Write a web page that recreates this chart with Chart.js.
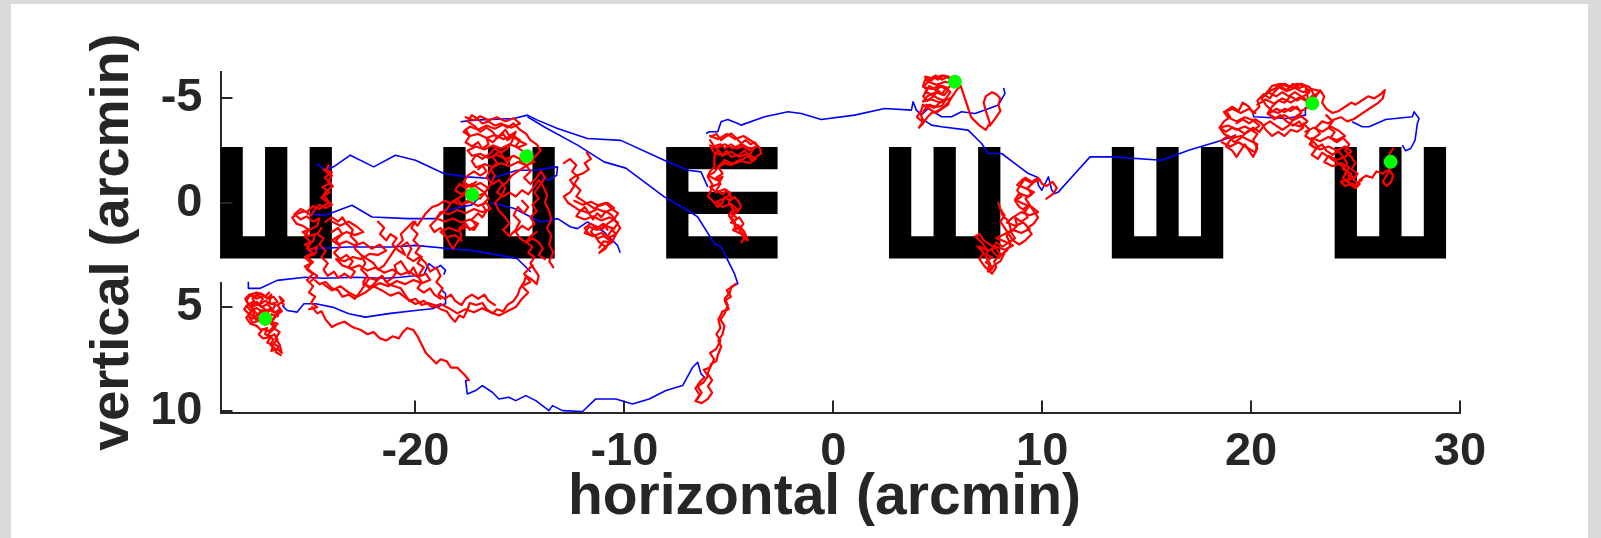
<!DOCTYPE html>
<html>
<head>
<meta charset="utf-8">
<script src="https://cdn.jsdelivr.net/npm/chart.js@4.4.1/dist/chart.umd.min.js"></script>
<style>
html,body{margin:0;padding:0;background:#d9d9d9;width:1601px;height:538px;overflow:hidden;}
#wrap{position:absolute;left:11px;top:4px;width:1577px;height:534px;background:#fff;}
canvas{display:block;}
</style>
</head>
<body>
<div id="wrap"><canvas id="c" width="1577" height="534"></canvas></div>
<script>
// ---------- axis ranges and ticks ----------
const xRange = [-29.333, 30];
const yRange = [-6.28, 10.05];
const xTicks = [-20, -10, 0, 10, 20, 30];
const yTicks = [-5, 0, 5, 10];
const xTitle = 'horizontal (arcmin)  ';
const yTitle = 'vertical (arcmin)';

// ---------- optotypes (tumbling E) ----------
const optoX = [-26.667, -16, -5.333, 5.333, 16, 26.667];
const optoY = [0, 0, 0, 0, 0, 0];
const optoDir = ['up', 'up', 'right', 'up', 'up', 'up'];
const optoSize = 5.333;
const axisGap = [2.667, 3.8];

// ---------- green markers ----------
const greenX = [-27.19, -17.28, -14.68, 5.82, 22.93, 26.68];
const greenY = [5.56, -0.39, -2.23, -5.80, -4.76, -1.96];

// ---------- blue traces ----------
const blueA = [[-28.0,3.81],[-28.0,4.10],[-27.43,4.10],[-26.62,3.72],[-25.28,3.57],[-24.4,3.62],[-22.88,3.57],[-21.5,3.62],[-20.72,3.57],[-19.6,3.45],[-19.36,2.92],[-19.04,3.16],[-18.80,3.0],[-18.56,3.24],[-18.65,3.45]];
const blueB = [[-26.38,4.92],[-26.14,5.16],[-25.66,5.24],[-25.34,4.84],[-24.78,4.84],[-23.98,5.0],[-23.19,5.32],[-22.40,5.48],[-21.2,5.3],[-20.00,5.16],[-19.20,5.08],[-18.56,4.84],[-18.56,4.36],[-18.72,4.20]];
const blueC = [[-25.19,2.36],[-24.80,2.20],[-23.20,2.12],[-21.12,2.12],[-20.00,2.04],[-18.32,2.20],[-17.36,2.28],[-15.92,2.52],[-15.12,2.68],[-14.48,3.32]];
const blueD = [[-25.19,0.52],[-24.32,0.60],[-23.04,0.12],[-22.08,0.68],[-20.33,0.76],[-19.04,0.76],[-18.56,0.36],[-18.0,0.25],[-17.3,0.1],[-17.0,-0.2]];
const blueE = [[-24.72,-1.88],[-24.32,-1.56],[-23.92,-1.72],[-23.12,-2.28],[-22.0,-1.72],[-20.96,-2.28],[-20.0,-2.04],[-18.64,-1.40],[-17.52,-1.24],[-16.40,-1.16],[-15.12,-1.56],[-14.33,-1.56],[-13.20,-1.72],[-13.24,-1.32],[-13.62,-1.08],[-14.0,-1.18]];
const blueF = [[-17.84,-3.88],[-17.20,-3.96],[-15.29,-4.04],[-14.64,-4.20],[-14.16,-3.96],[-13.20,-3.56],[-11.77,-3.08],[-10.17,-2.99],[-8.09,-2.04],[-6.97,-1.56],[-6.33,-1.48],[-6.01,-0.76]];
const blueG = [[-14.64,-4.12],[-13.85,-3.64],[-12.24,-2.76],[-10.97,-1.96],[-9.93,-1.66],[-8.09,-0.28],[-6.97,0.36],[-6.49,0.68],[-5.69,1.96],[-5.37,2.12],[-5.05,2.76],[-4.73,3.40],[-4.57,3.88],[-4.89,4.04]];
const blueH = [[-17.44,8.5],[-17.60,8.52],[-17.52,9.16],[-17.12,9.0],[-16.80,8.76],[-16.32,9.08],[-16.01,9.40],[-15.53,9.32],[-15.20,9.48],[-14.72,9.24],[-14.24,9.48],[-13.61,9.96],[-13.44,9.72],[-12.96,9.96],[-12.00,10.0],[-11.37,9.40],[-10.41,9.40],[-9.61,9.64],[-8.81,9.40],[-8.01,9.0],[-7.21,8.76],[-6.73,7.88],[-6.49,7.64],[-6.33,8.20],[-6.17,8.36]];
const blueI = [[-6.09,-3.32],[-5.93,-3.40],[-5.53,-3.40],[-5.37,-3.88],[-5.05,-3.99],[-4.57,-3.80],[-4.41,-3.72],[-3.29,-4.12],[-2.17,-4.36],[-1.53,-4.28],[-0.58,-3.99],[1.02,-4.20],[2.46,-4.52],[3.74,-4.44],[3.82,-4.84],[3.98,-4.44],[4.22,-4.20],[4.54,-4.52]];
const blueJ = [[4.54,-4.52],[5.18,-4.12],[5.66,-4.12],[6.14,-4.36],[6.78,-4.28],[7.26,-4.44],[7.90,-4.68],[8.22,-5.24],[8.15,-5.5]];
const blueK = [[4.22,-4.04],[4.70,-3.72],[5.18,-3.64],[6.46,-3.48],[7.10,-2.84],[7.42,-2.36],[8.06,-2.36],[8.70,-1.88],[9.34,-1.40],[9.74,-1.24],[9.82,-0.84],[9.98,-0.60],[10.30,-1.24],[10.46,-0.60],[10.61,-0.44],[10.78,-0.52],[11.57,-1.40],[12.29,-2.20],[13.33,-2.20],[15.73,-2.04],[17.01,-2.52],[18.61,-3.0],[19.25,-3.24]];
const blueL = [[20.05,-4.44],[20.13,-4.12],[21.65,-4.04],[22.60,-4.20],[22.60,-4.60]];
const blueM = [[24.84,-3.88],[25.32,-3.64],[25.65,-3.64],[26.44,-3.99],[27.72,-4.12],[27.80,-4.36],[28.04,-4.04],[27.96,-3.80],[27.85,-3.0],[27.64,-2.60],[27.40,-2.49],[27.24,-2.76]];
const blueN = [[-16.4,0.0],[-15.30,0.26],[-14.0,0.92],[-13.20,0.76],[-12.57,1.16],[-12.24,1.24],[-11.77,0.92],[-10.97,1.40],[-10.33,2.04],[-10.2,2.4]];

// ---------- red traces (drift) ----------
const redA = [[-27.2,5.56],[-27.4,5.3],[-27.2,5.1],[-27.5,4.9],[-27.3,4.6],[-27.6,4.4],[-27.8,4.6],[-27.6,4.9],[-27.9,5.0],[-28.1,4.7],[-27.9,4.4],[-27.6,4.3],[-27.3,4.4],[-27.1,4.6],[-26.9,4.4],[-27.0,4.8],[-26.7,4.9],[-26.9,5.2],[-26.6,5.3],[-26.8,5.6],[-27.1,5.4],[-27.4,5.7],[-27.7,5.5],[-27.9,5.3],[-28.1,5.5],[-27.9,5.8],[-27.6,5.9],[-27.4,6.1],[-27.1,6.0],[-27.2,6.3],[-26.9,6.4],[-27.1,6.7],[-26.8,6.8],[-26.9,7.1],[-26.6,7.0],[-26.4,7.2],[-26.5,6.8],[-26.7,6.5],[-26.5,6.2],[-26.8,6.0],[-26.6,5.8],[-26.9,5.7],[-26.7,5.4],[-26.4,5.2],[-26.6,4.9],[-26.3,4.7],[-26.5,4.5],[-26.3,4.9]];
const redA2 = [[-27.0,4.3],[-27.2,4.5],[-27.4,4.35],[-27.7,4.5],[-27.95,4.4],[-28.15,4.6],[-28.0,4.85],[-28.2,5.1],[-28.0,5.3],[-27.75,5.15],[-27.55,5.35],[-27.35,5.15],[-27.1,5.3],[-26.9,5.05],[-27.1,4.85],[-27.35,5.0],[-27.6,4.75],[-27.85,4.9],[-27.65,5.6],[-27.45,5.45],[-27.3,5.8],[-27.0,5.7],[-26.8,5.95],[-27.0,6.15],[-27.3,6.05],[-27.5,6.3],[-27.3,6.5],[-27.0,6.45],[-26.75,6.3],[-26.6,6.55],[-26.8,6.75],[-26.55,6.9],[-26.7,7.15],[-26.45,7.3]];
const redA3 = [[-27.9,4.45],[-27.6,4.6],[-27.3,4.45],[-27.0,4.6],[-26.8,4.5],[-26.6,4.75],[-26.9,4.85],[-27.2,4.7],[-27.5,4.9],[-27.8,4.75],[-28.1,4.95],[-27.9,5.15],[-27.6,5.05],[-27.3,5.25],[-27.0,5.1],[-26.7,5.25],[-26.5,5.1],[-26.6,5.45],[-26.9,5.35],[-27.2,5.5],[-27.5,5.35],[-27.8,5.55],[-28.0,5.4],[-27.8,5.75],[-27.5,5.65],[-27.2,5.85],[-26.9,5.7],[-26.7,5.95],[-26.9,6.15],[-27.1,6.35],[-26.8,6.55],[-26.95,6.8],[-26.7,7.0]];
const redB1 = [[-24.17,-1.8],[-24.3,-1.5],[-24.0,-1.3],[-24.2,-1.0],[-23.95,-0.8],[-24.2,-0.6],[-24.4,-0.4],[-24.2,-0.1],[-24.0,0.1],[-24.3,0.25],[-24.6,0.1],[-24.8,0.3],[-25.0,0.6],[-25.3,0.4],[-25.6,0.5],[-25.9,0.7],[-25.7,1.0],[-25.4,1.1],[-25.1,1.3],[-25.3,1.6],[-25.0,1.9],[-25.2,2.2],[-24.9,2.4],[-25.3,2.6],[-25.0,2.9],[-25.2,3.2],[-24.9,3.4],[-25.2,3.7],[-24.9,4.0],[-25.1,4.3],[-24.8,4.5],[-25.0,4.8],[-24.7,5.0],[-25.1,5.1]];
const redB1b = [[-24.4,-1.6],[-24.0,-1.45],[-24.35,-1.2],[-24.05,-0.95],[-24.45,-0.75],[-24.1,-0.5],[-24.5,-0.25],[-24.15,0.0],[-24.6,0.3],[-24.9,0.15],[-25.2,0.45],[-25.5,0.3],[-25.8,0.55],[-25.5,0.8],[-25.2,0.65],[-24.9,0.9],[-24.6,0.75],[-24.7,1.1],[-25.0,1.25],[-25.4,1.4],[-25.1,1.6],[-24.8,1.5],[-24.9,1.85],[-25.3,2.0],[-25.0,2.25],[-24.7,2.1],[-24.8,2.45],[-25.2,2.6],[-24.9,2.85],[-25.3,3.05],[-25.0,3.3],[-24.7,3.5],[-25.0,3.75]];
const redB2 = [[-24.3,0.9],[-24.0,0.7],[-23.7,0.9],[-23.5,0.7],[-23.3,1.0],[-23.0,1.3],[-23.1,1.6],[-22.8,1.9],[-22.9,2.2],[-22.6,2.5],[-22.3,2.7],[-22.0,2.9],[-21.8,3.2],[-21.5,3.0],[-21.3,2.7],[-21.1,2.4],[-20.9,2.1],[-20.6,1.8],[-20.7,1.5],[-20.4,1.2],[-20.1,0.9],[-19.9,1.1],[-19.7,0.8],[-19.5,0.5],[-19.2,0.2],[-18.9,0.1],[-18.6,-0.1],[-18.4,0.0]];
const redB3 = [[-24.8,3.72],[-24.6,3.9],[-24.3,3.8],[-24.0,4.1],[-23.7,4.2],[-23.5,4.5],[-23.2,4.4],[-22.9,4.6],[-22.6,4.2],[-22.4,3.9],[-22.2,3.6],[-21.9,3.7],[-21.6,3.5],[-21.3,3.9],[-21.0,4.0],[-20.7,4.1],[-20.5,4.4],[-20.3,4.7],[-20.0,4.6],[-19.7,4.9],[-19.4,4.8],[-19.1,4.9],[-18.8,5.1],[-18.5,5.2],[-18.3,5.5],[-18.1,5.7],[-17.9,5.4],[-17.7,5.5],[-17.5,5.1],[-17.4,4.8],[-17.1,4.9],[-16.8,4.8],[-16.6,5.1],[-16.3,5.3],[-16.1,5.1],[-15.8,5.2],[-15.6,4.9],[-15.3,4.7],[-15.1,4.4],[-15.0,4.1],[-14.8,3.8],[-14.7,3.5],[-14.4,3.7],[-14.2,3.9],[-14.1,3.5],[-14.3,3.2],[-14.5,2.9],[-14.3,2.6],[-14.6,2.4],[-14.4,2.1],[-14.7,1.9],[-14.5,1.6],[-14.2,1.4]];
const redB3b = [[-24.4,3.9],[-24.0,4.2],[-23.6,4.0],[-23.2,4.3],[-22.8,4.5],[-22.4,4.3],[-22.0,4.0],[-21.6,4.2],[-21.2,4.45],[-20.8,4.3],[-20.4,4.6],[-20.0,4.85],[-19.6,4.7],[-19.2,5.0],[-18.8,4.85],[-18.4,5.05],[-18.0,5.3],[-17.6,5.1],[-17.2,5.25],[-16.8,5.05],[-16.4,5.25],[-16.0,5.4],[-15.6,5.2],[-15.2,5.0],[-14.9,4.6],[-14.6,4.3],[-14.9,4.0],[-14.5,3.8],[-14.8,3.4],[-14.4,3.0]];
const redB4 = [[-24.95,5.0],[-24.7,5.3],[-24.5,5.2],[-24.3,5.6],[-24.0,5.95],[-23.7,5.8],[-23.4,5.7],[-23.1,5.9],[-22.9,6.0],[-22.6,6.1],[-22.3,6.3],[-22.0,6.2],[-21.7,6.5],[-21.4,6.6],[-21.1,6.4],[-20.8,6.5],[-20.6,6.2],[-20.4,6.0],[-20.1,6.1],[-19.9,6.4],[-19.7,6.8],[-19.5,7.2],[-19.3,7.4],[-19.0,7.7],[-18.8,7.5],[-18.5,7.6],[-18.3,7.9],[-18.0,7.9],[-17.8,8.1],[-17.6,8.3],[-17.44,8.5]];
const redB5 = [[-22.6,2.5],[-22.4,2.9],[-22.6,3.2],[-22.3,3.5],[-22.5,3.8],[-22.2,4.1],[-21.9,3.8],[-21.6,3.5],[-21.4,3.8],[-21.1,3.6],[-20.9,3.3],[-21.0,3.0],[-20.7,2.8],[-20.5,3.1],[-20.3,3.4],[-20.1,3.1],[-19.9,3.5],[-19.7,3.8],[-19.9,4.1],[-19.6,4.3],[-19.3,4.1],[-19.1,4.4],[-18.8,4.6]];
const redB6 = [[-20.0,0.9],[-20.2,1.2],[-19.9,1.5],[-20.1,1.8],[-19.8,2.1],[-20.0,2.4],[-19.7,2.6],[-19.9,2.9],[-19.6,3.1],[-19.8,3.4]];
const redB7 = [[-24.0,1.4],[-23.7,1.2],[-23.5,1.5],[-23.8,1.8],[-23.6,2.1],[-23.9,2.4],[-23.6,2.7],[-23.3,2.5],[-23.0,2.8],[-23.2,3.1],[-22.9,3.3],[-23.1,3.6],[-23.4,3.4],[-23.7,3.6],[-23.9,3.3],[-24.2,3.5],[-24.4,3.2],[-24.2,2.9],[-24.5,2.6],[-24.3,2.3],[-24.6,2.0],[-24.4,1.7],[-24.7,1.5],[-24.5,1.2]];
const redB8 = [[-21.8,0.9],[-21.5,1.2],[-21.7,1.5],[-21.4,1.8],[-21.2,1.5],[-20.9,1.7],[-21.1,2.0],[-20.8,2.3],[-20.5,2.5],[-20.7,2.1],[-20.4,1.9],[-20.2,2.2],[-20.4,2.6],[-20.1,2.8],[-19.8,2.6],[-19.5,2.9],[-19.3,3.3],[-19.0,3.1],[-18.8,3.5],[-19.0,3.8],[-18.7,4.1],[-18.9,4.4],[-18.6,4.6],[-18.3,4.4],[-18.1,4.7],[-17.8,4.9],[-17.6,4.6],[-17.3,4.4],[-17.0,4.6],[-16.7,4.4],[-16.5,4.7],[-16.2,4.9]];
const redB9 = [[-24.0,0.9],[-23.6,1.1],[-23.2,0.9],[-22.8,1.15],[-22.5,1.4],[-22.9,1.55],[-23.3,1.4],[-23.7,1.6],[-24.0,1.8],[-23.7,2.0],[-23.3,1.85],[-22.9,2.05],[-22.5,1.9],[-22.1,2.2],[-21.7,2.0],[-21.4,2.3],[-21.8,2.5],[-22.2,2.45],[-22.6,2.7],[-23.0,2.6],[-23.4,2.8],[-23.8,2.7],[-23.5,3.0],[-23.1,3.15],[-22.7,3.0],[-22.3,3.25],[-21.9,3.1],[-21.5,3.35],[-21.1,3.2],[-20.7,3.45],[-20.3,3.3],[-19.9,3.55],[-19.5,3.4],[-19.3,3.7],[-19.7,3.85],[-20.1,3.7],[-20.5,3.9],[-20.9,3.75],[-21.3,4.0],[-21.7,3.85],[-22.1,4.05],[-22.5,3.9]];
const redE2a = [[-17.28,-0.39],[-17.5,-0.1],[-17.8,0.1],[-18.0,-0.2],[-18.3,0.0],[-18.5,0.3],[-18.8,0.5],[-19.0,0.8],[-19.3,1.1],[-19.1,1.4],[-18.8,1.2],[-18.6,1.5],[-18.4,1.9],[-18.2,2.2],[-18.0,1.9],[-17.8,1.6],[-17.9,1.2],[-17.6,1.0],[-17.4,1.3],[-17.1,1.1],[-17.3,0.8],[-17.0,0.5],[-16.8,0.7],[-16.6,0.4],[-16.8,0.1],[-16.5,-0.2],[-16.7,-0.5],[-17.0,-0.7],[-17.3,-0.9],[-17.6,-0.7],[-17.9,-0.9],[-18.1,-0.6],[-17.8,-0.4],[-17.5,-0.6],[-17.2,-0.3],[-16.9,-0.2],[-16.6,-0.6],[-16.4,-0.9],[-16.2,-1.3],[-16.4,-1.6],[-16.1,-1.9],[-16.3,-2.2],[-16.0,-2.5],[-15.8,-2.2],[-15.6,-1.9],[-15.4,-2.2]];
const redE2b = [[-14.68,-2.23],[-14.9,-2.5],[-15.2,-2.7],[-15.0,-3.0],[-15.3,-3.2],[-15.6,-3.0],[-15.8,-3.3],[-16.1,-3.1],[-16.3,-3.4],[-16.6,-3.6],[-16.9,-3.4],[-17.2,-3.7],[-17.5,-3.9],[-17.3,-4.2],[-17.0,-4.0],[-16.8,-3.8],[-16.5,-3.9],[-16.2,-3.7],[-15.9,-3.8],[-15.6,-3.6],[-15.3,-3.8],[-15.0,-3.5],[-14.7,-3.3],[-14.5,-3.0],[-14.2,-2.8],[-14.0,-2.5],[-14.3,-2.2],[-14.5,-1.9],[-14.8,-1.7],[-15.1,-1.5],[-15.4,-1.3],[-15.6,-1.0],[-15.9,-0.8],[-16.1,-0.5],[-15.8,-0.3],[-15.5,-0.5],[-15.2,-0.3],[-14.9,-0.6],[-14.6,-0.4],[-14.3,-0.8],[-14.1,-1.1],[-13.9,-0.8],[-13.7,-0.4],[-13.8,0.0],[-13.6,0.4],[-13.5,0.8],[-13.7,1.2],[-13.5,1.6],[-13.6,2.0],[-13.4,2.4],[-13.6,2.8],[-13.4,3.1]];
const redE2c = [[-16.4,-1.6],[-16.6,-1.2],[-16.3,-0.9],[-16.0,-1.1],[-15.7,-0.7],[-15.9,-0.3],[-16.2,0.0],[-16.0,0.4],[-15.7,0.7],[-15.5,1.0],[-15.8,1.3],[-15.5,1.6],[-15.2,1.3],[-15.0,0.9],[-15.3,0.6],[-15.1,0.2],[-14.8,0.5],[-14.6,0.2],[-14.9,-0.1]];
const redE2d = [[-17.6,-3.5],[-17.4,-3.2],[-17.6,-2.9],[-17.3,-2.7],[-17.0,-2.9],[-16.8,-2.6],[-16.5,-2.8],[-16.6,-3.1],[-16.3,-2.9],[-16.0,-3.2],[-15.7,-3.5],[-15.5,-3.2],[-15.2,-3.4],[-15.4,-2.9],[-15.6,-2.6],[-15.9,-2.4],[-16.2,-2.6],[-16.5,-2.3],[-16.8,-2.1],[-17.1,-2.3],[-17.3,-2.0],[-17.1,-1.7],[-16.8,-1.8],[-16.6,-1.5],[-16.9,-1.3],[-17.2,-1.5],[-17.5,-1.3],[-17.7,-1.0],[-17.4,-0.8],[-17.1,-1.0]];
const redE2e = [[-15.0,-2.0],[-14.7,-1.8],[-14.5,-1.5],[-14.8,-1.2],[-14.5,-0.9],[-14.2,-1.2],[-14.0,-1.5],[-13.8,-1.2],[-14.0,-0.9],[-14.3,-0.5],[-14.1,-0.2],[-14.4,0.1],[-14.2,0.4],[-14.5,0.7],[-14.3,1.0],[-14.6,1.3],[-14.9,1.1],[-15.2,1.4],[-15.0,1.7],[-14.7,1.9],[-14.4,1.7],[-14.1,1.9],[-13.9,2.2],[-14.1,2.5],[-13.8,2.7]];
const redE2f = [[-17.6,-4.1],[-17.2,-3.95],[-16.9,-4.15],[-16.5,-3.95],[-16.1,-4.1],[-15.7,-3.9],[-15.3,-4.05],[-15.0,-3.8],[-15.4,-3.6],[-15.8,-3.75],[-16.2,-3.55],[-16.6,-3.7],[-17.0,-3.5],[-17.4,-3.65],[-17.7,-3.4],[-17.4,-3.2],[-17.0,-3.3],[-16.6,-3.1],[-16.2,-3.25],[-15.8,-3.05],[-15.4,-3.2],[-15.0,-2.95],[-14.7,-2.8],[-15.1,-2.65],[-15.5,-2.8],[-15.9,-2.6],[-16.3,-2.75],[-16.7,-2.55],[-17.1,-2.7],[-17.5,-2.5],[-17.3,-2.25],[-16.9,-2.35],[-16.5,-2.15],[-16.1,-2.3],[-15.7,-2.1],[-15.3,-2.25],[-14.9,-2.05],[-14.5,-2.2],[-14.3,-1.95],[-14.7,-1.8],[-15.1,-1.95],[-15.5,-1.75],[-15.9,-1.9],[-16.3,-1.7],[-16.7,-1.85],[-17.0,-1.6]];
const redE2g = [[-17.7,-0.9],[-17.3,-0.75],[-16.9,-0.95],[-16.5,-0.7],[-16.7,-0.45],[-17.1,-0.3],[-17.5,-0.45],[-17.9,-0.25],[-18.2,-0.05],[-17.8,0.1],[-17.4,-0.05],[-17.0,0.15],[-16.6,0.0],[-16.4,0.3],[-16.8,0.45],[-17.2,0.3],[-17.6,0.5],[-18.0,0.35],[-18.4,0.55],[-18.8,0.45],[-19.0,0.75],[-18.6,0.9],[-18.2,0.75],[-17.8,0.95],[-17.4,0.8],[-17.0,1.0],[-17.2,1.3],[-17.6,1.15],[-18.0,1.35],[-18.4,1.2],[-18.8,1.4],[-18.5,1.65],[-18.1,1.55],[-17.8,1.8]];
const redC = [[-11.8,-2.4],[-11.6,-2.1],[-11.9,-1.9],[-11.7,-1.6],[-12.0,-1.4],[-12.3,-1.3],[-12.6,-1.1],[-12.4,-0.8],[-12.6,-0.5],[-12.9,-0.3],[-12.7,0.0],[-12.4,0.2],[-12.1,0.4],[-11.9,0.2],[-11.7,0.5],[-11.5,0.8],[-11.3,0.5],[-11.1,0.7],[-10.9,0.4],[-10.6,0.6],[-10.4,0.9],[-10.2,1.2],[-10.4,1.5],[-10.6,1.3],[-10.8,1.6],[-10.6,1.9],[-10.9,2.1],[-11.2,1.9],[-11.4,1.6],[-11.7,1.5],[-11.9,1.2],[-11.6,1.0],[-11.3,1.2],[-11.0,1.0],[-10.8,1.3]];
const redC2 = [[-12.9,-1.9],[-12.6,-2.1],[-12.3,-1.8],[-12.5,-1.5],[-12.2,-1.2],[-12.4,-0.9],[-12.1,-0.6],[-12.3,-0.3],[-12.0,-0.1],[-11.7,0.1],[-11.4,0.3],[-11.2,0.1],[-10.9,0.0],[-10.6,0.3],[-10.3,0.5],[-10.5,0.8],[-10.8,1.0],[-11.1,1.3],[-11.4,1.1],[-11.6,1.4],[-11.3,1.7],[-11.0,1.6],[-10.7,1.8],[-10.9,2.2],[-11.2,2.4],[-10.9,2.1]];
const redC3 = [[-12.4,-0.1],[-12.0,0.1],[-11.6,-0.05],[-11.2,0.15],[-10.8,0.0],[-10.5,0.25],[-10.9,0.45],[-11.3,0.3],[-11.7,0.5],[-12.1,0.35],[-12.3,0.65],[-11.9,0.8],[-11.5,0.65],[-11.1,0.85],[-10.7,0.7],[-10.3,0.95],[-10.5,1.25],[-10.9,1.1],[-11.3,1.3],[-11.7,1.15],[-11.9,1.45],[-11.5,1.6],[-11.1,1.45],[-10.7,1.65],[-10.4,1.5],[-10.6,1.9],[-11.0,1.85],[-11.2,2.15]];
const redD = [[-5.85,-3.16],[-5.6,-3.3],[-5.37,-3.0],[-5.1,-3.2],[-4.89,-3.32],[-4.65,-3.1],[-4.41,-2.84],[-4.2,-3.0],[-3.95,-2.8],[-3.77,-2.9],[-3.5,-2.6],[-3.45,-2.36],[-3.7,-2.2],[-3.93,-2.04],[-4.1,-2.3],[-4.25,-2.52],[-4.5,-2.3],[-4.89,-2.2],[-5.1,-2.5],[-5.3,-2.3],[-5.53,-2.52],[-5.7,-2.2],[-5.69,-1.72],[-5.9,-1.5],[-6.01,-1.24],[-5.8,-0.9],[-5.85,-0.6],[-6.0,-0.3],[-5.8,-0.12],[-5.53,0.2],[-5.3,0.0],[-5.21,-0.28],[-4.95,-0.1],[-4.73,-0.28],[-4.5,0.0],[-4.41,0.2],[-4.6,0.45],[-4.89,0.68],[-4.7,0.95],[-4.73,1.32],[-4.45,1.16],[-4.25,1.4],[-4.09,1.8],[-4.3,1.64]];
const redD2 = [[-5.9,-3.0],[-5.7,-2.7],[-5.4,-2.8],[-5.2,-2.6],[-4.9,-2.8],[-4.6,-2.6],[-4.3,-2.7],[-4.0,-2.5],[-3.8,-2.6],[-4.0,-2.3],[-4.3,-2.1],[-4.6,-2.0],[-4.9,-1.8],[-5.2,-1.9],[-5.5,-1.7],[-5.3,-1.4],[-5.6,-1.2],[-5.4,-0.9],[-5.6,-0.6],[-5.3,-0.4],[-5.1,-0.6],[-4.9,-0.3],[-5.0,0.0],[-4.8,0.3],[-5.0,0.6],[-4.8,0.9],[-4.5,0.7],[-4.3,1.0],[-4.5,1.3],[-4.2,1.6],[-4.4,1.9]];
const redD3 = [[-5.9,-3.2],[-5.5,-3.05],[-5.1,-3.3],[-4.7,-3.05],[-4.3,-3.2],[-3.9,-2.95],[-3.6,-2.7],[-4.0,-2.6],[-4.4,-2.8],[-4.8,-2.6],[-5.2,-2.8],[-5.6,-2.6],[-5.9,-2.75],[-5.7,-2.4],[-5.3,-2.25],[-4.9,-2.45],[-4.5,-2.2],[-4.1,-2.35],[-3.7,-2.1],[-4.0,-1.9],[-4.4,-2.0],[-4.8,-1.85],[-5.2,-2.05],[-5.5,-1.75],[-5.7,-1.45],[-6.0,-1.3],[-5.6,-1.1],[-5.3,-1.25],[-5.5,-0.9],[-5.9,-0.75],[-5.6,-0.5],[-5.2,-0.65],[-4.9,-0.45],[-5.2,-0.2],[-5.6,-0.05],[-5.3,0.2],[-4.9,0.05],[-4.6,0.3],[-4.9,0.5],[-4.6,0.75],[-4.9,0.95],[-4.5,1.1],[-4.8,1.3],[-4.4,1.5],[-4.2,1.75]];
const redE = [[-6.17,8.36],[-6.4,8.6],[-6.6,8.9],[-6.4,9.2],[-6.6,9.5],[-6.3,9.6],[-6.0,9.4],[-5.8,9.1],[-6.0,8.8],[-5.8,8.5],[-6.01,8.2],[-5.85,7.72],[-5.6,7.6],[-5.53,7.3],[-5.37,6.9],[-5.5,6.6],[-5.3,6.3],[-5.21,5.9],[-5.4,5.6],[-5.2,5.3],[-5.05,4.9],[-5.2,4.6],[-4.95,4.3],[-4.89,4.04],[-4.65,3.88]];
const redE3 = [[-6.5,9.4],[-6.3,9.1],[-6.5,8.8],[-6.2,8.6],[-6.0,8.3],[-6.2,8.0],[-5.9,7.9],[-5.7,7.5],[-5.9,7.2],[-5.6,7.0],[-5.4,6.6],[-5.6,6.3],[-5.4,6.0],[-5.5,5.6],[-5.3,5.2],[-5.0,5.1],[-5.2,4.7],[-4.9,4.5],[-5.1,4.2],[-4.8,4.0]];
const redF = [[5.82,-5.8],[5.6,-6.0],[5.3,-6.1],[5.0,-5.9],[4.8,-6.05],[4.6,-5.8],[4.4,-5.9],[4.3,-5.6],[4.5,-5.4],[4.3,-5.1],[4.5,-4.9],[4.8,-5.1],[5.0,-5.4],[5.2,-5.2],[5.4,-5.5],[5.6,-5.3],[5.4,-5.0],[5.1,-4.8],[4.9,-4.6],[4.6,-4.7],[4.4,-4.5],[4.2,-4.2],[4.3,-3.9],[4.1,-3.6],[4.3,-3.8],[4.5,-4.1],[4.7,-4.3],[5.0,-4.4],[5.3,-4.6],[5.5,-4.8],[5.7,-5.1],[5.9,-5.4],[6.1,-5.6],[6.2,-5.3],[6.3,-5.0],[6.4,-4.7],[6.5,-4.4],[6.6,-4.1],[6.8,-3.9],[7.0,-3.7],[7.3,-3.5],[7.5,-3.8],[7.4,-4.1],[7.3,-4.4],[7.2,-4.8],[7.3,-5.1],[7.6,-5.3],[7.8,-5.2],[8.0,-5.0],[7.9,-4.7],[8.0,-4.4],[7.8,-4.1],[7.5,-3.7]];
const redF2 = [[4.4,-6.0],[4.7,-5.85],[4.9,-6.1],[5.2,-5.9],[5.5,-6.05],[5.7,-5.7],[5.5,-5.5],[5.2,-5.6],[4.9,-5.4],[4.6,-5.6],[4.4,-5.3],[4.7,-5.2],[5.0,-5.0],[5.3,-4.9],[5.6,-5.0],[5.5,-4.7],[5.2,-4.5],[4.9,-4.3],[4.6,-4.5],[4.3,-4.7],[4.2,-4.4],[4.0,-4.1],[4.25,-3.9]];
const redF3 = [[4.4,-6.05],[4.8,-5.95],[5.2,-6.1],[5.6,-5.95],[5.75,-5.7],[5.35,-5.8],[4.95,-5.65],[4.55,-5.8],[4.3,-5.55],[4.7,-5.45],[5.1,-5.6],[5.5,-5.4],[5.3,-5.15],[4.9,-5.3],[4.5,-5.1],[4.3,-4.85],[4.7,-4.95],[5.1,-4.8],[5.4,-4.95],[5.2,-4.65],[4.8,-4.55],[4.45,-4.7]];
const redG = [[10.2,-0.2],[10.5,-0.4],[10.7,-0.7],[10.5,-1.0],[10.2,-0.8],[10.0,-0.9],[9.8,-1.2],[9.5,-1.0],[9.2,-1.2],[9.0,-0.9],[8.8,-0.6],[9.0,-0.3],[8.7,-0.1],[8.9,0.2],[9.2,0.4],[9.4,0.1],[9.6,0.4],[9.8,0.7],[9.6,1.0],[9.3,1.2],[9.5,1.5],[9.2,1.8],[8.9,2.0],[8.6,1.8],[8.4,1.5],[8.2,1.2],[8.0,0.9],[8.2,0.6],[8.0,0.3],[7.9,0.0],[8.1,0.6],[8.4,0.9],[8.5,1.3],[8.3,1.6],[8.5,2.0],[8.3,2.3],[8.0,2.5],[7.8,2.2],[7.5,2.0],[7.2,1.8],[7.0,1.5],[6.8,1.6],[7.1,1.9],[7.4,2.3],[7.3,2.6],[7.5,2.9],[7.4,3.2],[7.6,3.4],[7.8,3.1],[7.7,2.8],[7.9,2.6]];
const redG2 = [[9.6,-1.0],[9.3,-0.7],[9.5,-0.4],[9.2,-0.2],[9.4,0.1],[9.1,0.3],[9.3,0.7],[9.0,0.9],[8.7,0.7],[8.8,1.1],[8.5,1.4],[8.7,1.7],[8.4,1.9],[8.1,2.1],[7.8,1.9],[7.6,2.3],[7.9,2.6],[8.2,2.4],[8.0,2.8],[7.7,3.0],[7.5,3.3],[7.2,3.0],[7.0,2.7],[7.2,2.4],[6.9,2.1]];
const redG3 = [[9.9,-1.1],[9.5,-0.95],[9.1,-1.15],[8.8,-0.85],[9.2,-0.7],[9.6,-0.5],[9.3,-0.3],[8.9,-0.45],[8.7,-0.15],[9.1,0.05],[9.5,0.2],[9.8,0.45],[9.4,0.6],[9.0,0.45],[8.6,0.7],[8.3,0.95],[8.7,1.1],[9.1,0.95],[9.4,1.25],[9.0,1.45],[8.6,1.3],[8.2,1.5],[7.8,1.7],[8.2,1.85],[8.6,2.05],[8.2,2.25],[7.8,2.1],[7.4,2.3],[7.0,2.1],[7.2,2.45],[7.6,2.6],[7.3,2.85],[7.6,3.05],[7.4,3.3]];
const redH1 = [[19.25,-3.24],[19.0,-3.0],[18.8,-2.7],[19.1,-2.5],[19.3,-2.2],[19.5,-2.5],[19.7,-2.8],[19.9,-2.5],[20.1,-2.2],[20.3,-2.6],[20.1,-3.0],[20.3,-3.3],[20.0,-3.5],[19.7,-3.3],[19.4,-3.5],[19.1,-3.6],[18.8,-3.4],[18.5,-3.6],[18.7,-3.9],[19.0,-4.1],[18.8,-4.4],[19.1,-4.6],[19.4,-4.4],[19.6,-4.8],[19.9,-4.6],[20.1,-4.3],[20.4,-4.6],[20.3,-4.9],[20.6,-5.2],[20.9,-5.0],[21.1,-5.3],[21.4,-5.6],[21.7,-5.4],[22.0,-5.7],[22.3,-5.5],[22.6,-5.6],[22.8,-5.3],[22.5,-5.1],[22.2,-4.9],[21.9,-5.1],[21.6,-4.8],[21.3,-4.9],[21.0,-4.6],[20.8,-4.3],[21.1,-4.0],[21.4,-4.2],[21.7,-3.9],[22.0,-3.7],[22.3,-3.9],[22.5,-3.6],[22.2,-3.4],[21.9,-3.5],[21.6,-3.2],[21.3,-3.4],[21.0,-3.2],[20.7,-3.5],[20.5,-3.8],[20.2,-4.0],[19.9,-3.8],[19.6,-4.0],[19.3,-3.8]];
const redH2 = [[22.93,-4.76],[23.1,-5.1],[23.3,-5.4],[23.5,-5.1],[23.4,-4.8],[23.6,-4.5],[23.9,-4.3],[24.2,-4.4],[24.5,-4.6],[24.8,-4.8],[25.0,-4.7],[25.3,-4.9],[25.6,-5.1],[25.9,-5.0],[26.2,-5.2],[26.4,-5.4],[26.3,-5.0],[26.1,-4.8],[25.8,-4.6],[25.5,-4.4],[25.2,-4.2],[24.9,-4.0],[24.6,-3.9],[24.3,-4.1],[24.0,-4.0],[23.7,-3.8],[23.4,-3.9],[23.1,-3.6],[23.3,-3.3],[23.0,-3.1],[22.8,-2.8],[23.1,-2.6],[23.4,-2.8],[23.6,-2.5],[23.9,-2.3],[24.2,-2.5],[24.4,-2.2],[24.6,-1.9],[24.4,-1.6],[24.8,-1.4],[24.6,-1.1],[24.3,-1.0],[24.5,-0.8],[24.8,-0.9],[25.1,-0.8],[25.2,-1.1],[25.5,-1.3],[25.8,-1.2],[26.0,-1.5],[26.3,-1.4],[26.6,-1.6],[26.8,-1.3],[26.7,-1.0],[26.5,-0.8],[26.3,-1.0],[26.6,-1.5],[26.7,-1.96],[26.6,-2.3],[26.8,-2.6]];
const redH3 = [[18.6,-3.0],[18.9,-3.2],[19.2,-2.9],[19.5,-3.1],[19.8,-3.4],[20.1,-3.6],[20.4,-3.4],[20.6,-3.7],[20.9,-3.9],[21.2,-3.7],[21.5,-3.5],[21.8,-3.7],[22.1,-4.1],[22.4,-4.3],[22.2,-4.6],[21.9,-4.4],[21.6,-4.5],[21.3,-4.3],[21.0,-4.4],[20.7,-4.7],[20.5,-5.0],[20.8,-5.3],[21.2,-5.1],[21.5,-5.3],[21.8,-5.1],[22.1,-5.3],[22.4,-5.1],[22.7,-4.9],[23.0,-5.2],[22.8,-5.55],[22.4,-5.7],[22.0,-5.5],[21.6,-5.7],[21.2,-5.55]];
const redH4 = [[23.6,-4.2],[23.9,-3.9],[23.7,-3.6],[24.0,-3.4],[23.8,-3.1],[24.1,-2.9],[24.4,-3.1],[24.7,-2.8],[24.5,-2.5],[24.8,-2.2],[25.0,-1.9],[24.8,-1.6],[25.1,-1.4],[24.9,-1.1],[25.2,-0.9],[25.0,-0.7],[24.7,-0.9],[24.4,-1.2],[24.6,-1.5],[24.3,-1.8],[24.0,-2.0],[23.7,-2.2],[23.4,-2.4],[23.2,-2.1],[22.9,-2.3],[23.2,-2.7],[22.9,-3.0],[22.6,-3.2],[22.8,-3.5],[22.5,-3.8]];
const redH5 = [[18.6,-2.9],[19.0,-2.7],[19.4,-2.9],[19.8,-2.65],[20.2,-2.4],[20.3,-2.8],[19.9,-3.0],[19.5,-3.2],[19.1,-3.1],[18.7,-3.3],[18.5,-3.6],[18.9,-3.7],[19.3,-3.5],[19.7,-3.65],[20.1,-3.45],[20.4,-3.7],[20.1,-3.95],[19.7,-4.1],[19.3,-3.9],[18.9,-4.1],[18.7,-4.35],[19.1,-4.5],[19.5,-4.3],[19.9,-4.5],[20.2,-4.3]];
const redH6 = [[20.3,-4.7],[20.7,-4.95],[21.1,-4.75],[21.5,-5.0],[21.9,-4.8],[22.3,-5.05],[22.7,-4.85],[23.0,-5.1],[23.3,-5.35],[22.9,-5.45],[22.5,-5.3],[22.1,-5.5],[21.7,-5.35],[21.3,-5.55],[20.9,-5.35],[20.6,-5.1],[21.0,-5.6],[21.4,-5.7],[21.8,-5.55],[22.2,-5.7],[22.6,-5.6],[22.8,-4.6],[22.4,-4.4],[22.0,-4.6],[21.6,-4.35],[21.2,-4.5],[20.8,-4.25],[21.2,-4.05],[21.6,-4.2],[22.0,-3.95],[22.4,-4.15],[22.7,-3.9],[22.4,-3.65],[22.0,-3.75]];
const redH7 = [[22.6,-3.4],[23.0,-3.6],[23.4,-3.4],[23.8,-3.65],[24.2,-3.45],[24.5,-3.2],[24.1,-3.0],[23.7,-3.15],[23.3,-2.95],[22.9,-3.1],[22.9,-2.75],[23.3,-2.55],[23.7,-2.7],[24.1,-2.5],[24.5,-2.7],[24.8,-2.45],[24.5,-2.2],[24.1,-2.05],[23.7,-2.25],[23.5,-1.95],[23.9,-1.75],[24.3,-1.9],[24.7,-1.7],[24.5,-1.4],[24.9,-1.25],[24.6,-1.0],[25.0,-0.85],[25.3,-1.1]];

const blueTraces = [blueA, blueB, blueC, blueD, blueE, blueF, blueG, blueH, blueI, blueJ, blueK, blueL, blueM, blueN];
const redTraces = [redA, redA2, redA3, redB1, redB1b, redB2, redB3, redB3b, redB4, redB5, redB6, redB7, redB8, redB9,
  redE2a, redE2b, redE2c, redE2d, redE2e, redE2f, redE2g, redC, redC2, redC3, redD, redD2, redD3, redE, redE3,
  redF, redF2, redF3, redG, redG2, redG3, redH1, redH2, redH3, redH4, redH5, redH6, redH7];

// ---------- styling ----------
const AX = '#262626';
const FONT = 'Liberation Sans, Arial, Helvetica, sans-serif';

const toPts = arr => arr.map(p => ({x: p[0], y: p[1]}));
const datasets = [];
datasets.push({
  label: 'start', data: greenX.map((v, i) => ({x: v, y: greenY[i]})),
  showLine: false, pointRadius: 7, pointBackgroundColor: '#00ff00', pointBorderWidth: 0,
  pointBorderColor: '#00ff00', order: 0
});
redTraces.forEach((t, i) => datasets.push({
  label: 'drift' + i, data: toPts(t), showLine: true, pointRadius: 0,
  borderColor: '#ff0000', borderWidth: 2.2, borderJoinStyle: 'round', borderCapStyle: 'round', tension: 0, order: 1
}));
blueTraces.forEach((t, i) => datasets.push({
  label: 'trace' + i, data: toPts(t), showLine: true, pointRadius: 0,
  borderColor: '#0000ff', borderWidth: 1.6, borderJoinStyle: 'round', tension: 0, order: 2
}));

const optoPlugin = {
  id: 'opto',
  beforeDatasetsDraw(chart) {
    const {ctx, scales: {x, y}} = chart;
    ctx.save();
    const g1 = y.getPixelForValue(axisGap[0]), g2 = y.getPixelForValue(axisGap[1]);
    ctx.fillStyle = '#ffffff';
    ctx.fillRect(x.left - 4, g1, 8, g2 - g1);
    const s = optoSize / 5;
    const shapes = {
      up: [[0,0,1,4],[2,0,1,4],[4,0,1,4],[0,4,5,1]],
      right: [[0,0,1,5],[1,0,4,1],[1,2,4,1],[1,4,4,1]]
    };
    ctx.fillStyle = '#000000';
    ctx.beginPath();
    optoX.forEach((cx, i) => {
      const x0 = cx - optoSize / 2, y0 = optoY[i] - optoSize / 2;
      shapes[optoDir[i]].forEach(r => {
        const a = x.getPixelForValue(x0 + r[0] * s), b = x.getPixelForValue(x0 + (r[0] + r[2]) * s);
        const c = y.getPixelForValue(y0 + r[1] * s), d = y.getPixelForValue(y0 + (r[1] + r[3]) * s);
        ctx.rect(Math.min(a, b), Math.min(c, d), Math.abs(b - a), Math.abs(d - c));
      });
    });
    ctx.fill();
    ctx.restore();
  },
  afterDatasetsDraw(chart) {
    const {ctx, scales: {x, y}} = chart;
    ctx.save();
    ctx.strokeStyle = AX;
    ctx.lineWidth = 2;
    ctx.beginPath();
    xTicks.forEach(v => {
      const p = Math.round(x.getPixelForValue(v));
      ctx.moveTo(p, y.bottom); ctx.lineTo(p, y.bottom - 12);
    });
    yTicks.forEach(v => {
      const p = Math.round(y.getPixelForValue(v));
      ctx.moveTo(x.left, p); ctx.lineTo(x.left + 12, p);
    });
    ctx.stroke();
    ctx.restore();
  }
};

new Chart(document.getElementById('c'), {
  type: 'scatter',
  data: {datasets},
  options: {
    responsive: false, animation: false, devicePixelRatio: 1, events: [],
    layout: {padding: {left: 0, right: 128, top: 67.7, bottom: 0}},
    plugins: {legend: {display: false}, tooltip: {enabled: false}},
    scales: {
      x: {
        type: 'linear', position: 'bottom', min: xRange[0], max: xRange[1],
        afterBuildTicks: sc => { sc.ticks = xTicks.map(v => ({value: v})); },
        afterFit: sc => { sc.height = 125.5; },
        grid: {display: false, drawTicks: false},
        border: {display: true, color: AX, width: 2},
        ticks: {color: AX, font: {family: FONT, size: 47, weight: 'bold'}, padding: 11, maxRotation: 0, autoSkip: false},
        title: {display: true, text: xTitle, color: AX, font: {family: FONT, size: 57, weight: 'bold', lineHeight: 1}, padding: {top: 0, bottom: 11}}
      },
      y: {
        type: 'linear', reverse: true, min: yRange[0], max: yRange[1],
        afterBuildTicks: sc => { sc.ticks = yTicks.map(v => ({value: v})); },
        afterFit: sc => { sc.width = 209.5; },
        grid: {display: false, drawTicks: false},
        border: {display: true, color: AX, width: 2},
        ticks: {color: AX, font: {family: FONT, size: 47, weight: 'bold'}, padding: 18, autoSkip: false},
        title: {display: true, text: yTitle, color: AX, font: {family: FONT, size: 54, weight: 'bold', lineHeight: 1}, padding: {top: 75, bottom: 0}}
      }
    }
  },
  plugins: [optoPlugin]
});
</script>
</body>
</html>
